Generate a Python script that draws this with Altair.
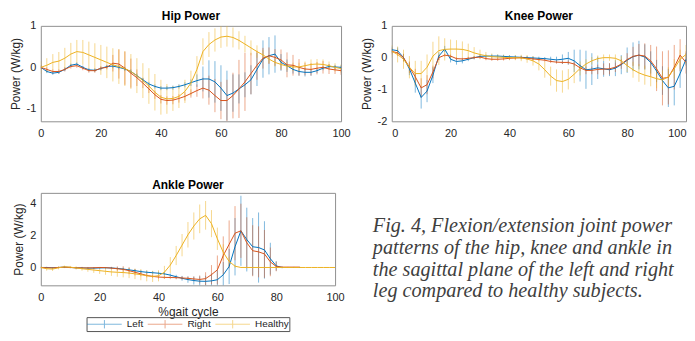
import altair as alt
import pandas as pd

# ---------------- data ----------------
X = list(range(0, 101, 2))
SERIES = ["Left", "Right", "Healthy"]
COLORS = ["#0072BD", "#D95319", "#EDB120"]
X_TICKS = [0, 20, 40, 60, 80, 100]
HIP_Y_TICKS = [-1, 0, 1]
KNEE_Y_TICKS = [-2, -1, 0, 1]
ANKLE_Y_TICKS = [0, 2, 4]

CAPTION = [
    "Fig. 4, Flexion/extension joint power",
    "patterns of the hip, knee and ankle in",
    "the sagittal plane of the left and right",
    "leg compared to healthy subjects.",
]

# Hip power (W/kg), every 2 % of the gait cycle
hip_left_mean = [0.0, -0.1, -0.14, -0.12, -0.05, 0.05, 0.08, 0.0, -0.06, -0.07,
                 -0.03, 0.02, 0.03, 0.0, -0.04, -0.1, -0.2, -0.3, -0.4, -0.46,
                 -0.5, -0.5, -0.49, -0.46, -0.42, -0.37, -0.32, -0.28, -0.28, -0.35,
                 -0.5, -0.68, -0.62, -0.52, -0.42, -0.3, -0.05, 0.2, 0.28, 0.32,
                 0.12, 0.04, -0.05, -0.1, -0.12, -0.12, -0.08, -0.02, 0.02, 0.01, 0.0]
hip_left_sd = [0.04, 0.04, 0.04, 0.04, 0.04, 0.04, 0.04, 0.04, 0.04, 0.04,
               0.04, 0.04, 0.05, 0.05, 0.05, 0.05, 0.05, 0.05, 0.05, 0.05,
               0.05, 0.05, 0.05, 0.05, 0.06, 0.08, 0.15, 0.3, 0.45, 0.5,
               0.55, 0.6, 0.45, 0.35, 0.3, 0.35, 0.4, 0.45, 0.45, 0.45,
               0.2, 0.15, 0.1, 0.1, 0.1, 0.08, 0.06, 0.05, 0.05, 0.05, 0.05]
hip_right_mean = [0.0, -0.05, -0.1, -0.1, -0.05, 0.02, 0.04, -0.02, -0.08, -0.08,
                  -0.02, 0.0, 0.1, 0.08, -0.02, -0.14, -0.25, -0.38, -0.52, -0.66,
                  -0.77, -0.8, -0.79, -0.75, -0.7, -0.63, -0.56, -0.5, -0.55, -0.68,
                  -0.8, -0.8, -0.68, -0.52, -0.35, -0.15, 0.05, 0.22, 0.28, 0.24,
                  0.18, 0.06, 0.05, 0.0, -0.04, -0.05, -0.02, 0.0, -0.04, -0.06, -0.08]
hip_right_sd = [0.05, 0.05, 0.05, 0.05, 0.05, 0.05, 0.05, 0.05, 0.05, 0.05,
                0.05, 0.05, 0.2, 0.35, 0.4, 0.35, 0.2, 0.12, 0.1, 0.1,
                0.1, 0.1, 0.1, 0.1, 0.1, 0.1, 0.15, 0.25, 0.35, 0.4,
                0.45, 0.5, 0.55, 0.7, 0.7, 0.5, 0.35, 0.25, 0.2, 0.2,
                0.25, 0.3, 0.25, 0.2, 0.15, 0.15, 0.15, 0.15, 0.12, 0.1, 0.1]
hip_healthy_mean = [0.0, 0.05, 0.12, 0.15, 0.22, 0.32, 0.38, 0.36, 0.3, 0.24,
                    0.18, 0.12, 0.06, 0.02, -0.03, -0.1, -0.2, -0.32, -0.45, -0.6,
                    -0.72, -0.76, -0.75, -0.7, -0.58, -0.38, -0.05, 0.38, 0.55, 0.66,
                    0.73, 0.75, 0.72, 0.65, 0.56, 0.47, 0.38, 0.3, 0.2, 0.12,
                    0.07, 0.03, 0.01, 0.01, 0.04, 0.07, 0.08, 0.07, 0.04, 0.0, -0.03]
hip_healthy_sd = [0.15, 0.17, 0.2, 0.22, 0.25, 0.27, 0.28, 0.3, 0.32, 0.34,
                  0.36, 0.38, 0.4, 0.42, 0.42, 0.42, 0.42, 0.42, 0.43, 0.44,
                  0.42, 0.36, 0.3, 0.28, 0.28, 0.3, 0.32, 0.32, 0.3, 0.28,
                  0.26, 0.25, 0.24, 0.22, 0.2, 0.18, 0.15, 0.12, 0.1, 0.1,
                  0.1, 0.1, 0.1, 0.1, 0.1, 0.12, 0.12, 0.12, 0.1, 0.1, 0.1]

# Knee power (W/kg)
knee_left_mean = [0.25, 0.22, 0.0, -0.35, -0.8, -1.25, -1.05, -0.55, 0.05, 0.27,
                  -0.05, -0.12, -0.1, -0.05, 0.0, 0.04, 0.05, 0.05, 0.05, 0.04,
                  0.03, 0.02, 0.01, 0.0, -0.01, -0.02, -0.03, -0.05, -0.07, -0.05,
                  -0.02, -0.1, -0.25, -0.38, -0.36, -0.32, -0.35, -0.38, -0.33, -0.22,
                  -0.08, 0.03, 0.08, 0.02, -0.15, -0.42, -0.72, -0.95, -0.9, -0.5, -0.05]
knee_left_sd = [0.1, 0.1, 0.12, 0.2, 0.3, 0.35, 0.35, 0.25, 0.12, 0.1,
                0.1, 0.1, 0.08, 0.06, 0.05, 0.05, 0.05, 0.05, 0.05, 0.05,
                0.05, 0.05, 0.05, 0.05, 0.05, 0.05, 0.05, 0.08, 0.1, 0.15,
                0.2, 0.35, 0.5, 0.6, 0.5, 0.35, 0.25, 0.2, 0.25, 0.3,
                0.4, 0.45, 0.45, 0.4, 0.35, 0.35, 0.45, 0.6, 0.6, 0.45, 0.2]
knee_right_mean = [0.2, 0.15, 0.0, -0.3, -0.6, -0.95, -0.85, -0.45, 0.0, 0.08,
                   0.05, -0.03, -0.04, -0.02, 0.0, 0.02, -0.03, -0.05, -0.05, -0.04,
                   -0.02, -0.01, 0.0, -0.02, -0.04, -0.06, -0.08, -0.12, -0.14, -0.15,
                   -0.15, -0.2, -0.32, -0.4, -0.4, -0.37, -0.36, -0.35, -0.3, -0.2,
                   -0.06, 0.04, 0.08, 0.05, -0.1, -0.35, -0.65, -0.62, -0.3, 0.08, -0.15]
knee_right_sd = [0.1, 0.1, 0.12, 0.18, 0.25, 0.3, 0.3, 0.2, 0.08, 0.05,
                 0.05, 0.05, 0.05, 0.05, 0.05, 0.05, 0.05, 0.05, 0.05, 0.05,
                 0.05, 0.05, 0.05, 0.05, 0.05, 0.05, 0.05, 0.05, 0.05, 0.05,
                 0.06, 0.08, 0.1, 0.12, 0.12, 0.15, 0.18, 0.18, 0.15, 0.15,
                 0.2, 0.3, 0.35, 0.4, 0.5, 0.7, 0.85, 0.85, 0.7, 0.5, 0.35]
knee_healthy_mean = [0.2, 0.1, -0.05, -0.3, -0.5, -0.5, -0.3, 0.05, 0.22, 0.26,
                     0.27, 0.27, 0.26, 0.22, 0.15, 0.1, 0.06, 0.03, 0.02, 0.01,
                     0.0, 0.0, -0.01, -0.04, -0.1, -0.2, -0.38, -0.58, -0.72, -0.75,
                     -0.68, -0.52, -0.34, -0.2, -0.1, -0.03, 0.0, 0.0, -0.02, -0.1,
                     -0.25, -0.38, -0.48, -0.55, -0.6, -0.66, -0.7, -0.6, -0.35, -0.05, 0.1]
knee_healthy_sd = [0.2, 0.25, 0.3, 0.35, 0.4, 0.4, 0.4, 0.45, 0.45, 0.35,
                   0.3, 0.28, 0.25, 0.22, 0.18, 0.15, 0.12, 0.1, 0.08, 0.08,
                   0.08, 0.08, 0.1, 0.12, 0.15, 0.2, 0.25, 0.3, 0.35, 0.35,
                   0.32, 0.28, 0.22, 0.15, 0.12, 0.1, 0.1, 0.1, 0.12, 0.15,
                   0.2, 0.25, 0.28, 0.3, 0.3, 0.3, 0.3, 0.3, 0.3, 0.3, 0.3]

# Ankle power (W/kg); patient series stop at 88 %
ankle_left_mean = [0.0, 0.0, -0.02, 0.0, 0.02, 0.0, -0.02, -0.03, -0.04, -0.04,
                   -0.03, -0.02, -0.03, -0.06, -0.1, -0.15, -0.2, -0.26, -0.3, -0.33,
                   -0.36, -0.4, -0.48, -0.58, -0.68, -0.76, -0.82, -0.86, -0.87, -0.84,
                   -0.77, -0.46, 0.06, 1.3, 2.3, 1.75, 1.3, 1.25, 1.1, 0.55,
                   0.1, 0.0, 0.0, 0.0, 0.0]
ankle_left_sd = [0.04, 0.04, 0.04, 0.04, 0.04, 0.04, 0.04, 0.04, 0.04, 0.04,
                 0.04, 0.04, 0.04, 0.06, 0.08, 0.1, 0.1, 0.1, 0.1, 0.1,
                 0.1, 0.1, 0.1, 0.12, 0.15, 0.2, 0.25, 0.3, 0.35, 0.45,
                 0.6, 0.8, 1.1, 1.8, 2.2, 2.0, 1.8, 2.2, 1.8, 1.0,
                 0.3, 0.05, 0.02, 0.02, 0.02]
ankle_right_mean = [0.0, -0.02, -0.03, 0.0, 0.02, 0.0, -0.02, -0.03, -0.03, -0.02,
                    0.0, -0.01, -0.04, -0.08, -0.12, -0.2, -0.3, -0.4, -0.5, -0.56,
                    -0.6, -0.62, -0.63, -0.64, -0.66, -0.68, -0.72, -0.75, -0.7, -0.45,
                    -0.15, 0.75, 1.45, 2.15, 2.3, 1.55, 1.05, 0.98, 0.85, 0.35,
                    0.06, 0.02, 0.02, 0.02, 0.02]
ankle_right_sd = [0.03, 0.03, 0.03, 0.03, 0.03, 0.03, 0.03, 0.03, 0.03, 0.03,
                  0.03, 0.03, 0.08, 0.15, 0.2, 0.22, 0.2, 0.15, 0.12, 0.1,
                  0.1, 0.1, 0.1, 0.1, 0.1, 0.1, 0.15, 0.25, 0.4, 0.6,
                  0.9, 1.2, 1.5, 1.7, 1.7, 1.6, 1.6, 1.6, 1.5, 0.9,
                  0.3, 0.05, 0.02, 0.02, 0.02]
ankle_healthy_mean = [0.0, -0.08, -0.1, -0.02, 0.04, 0.02, -0.03, -0.08, -0.12, -0.16,
                      -0.2, -0.24, -0.28, -0.3, -0.32, -0.35, -0.4, -0.45, -0.52, -0.56,
                      -0.52, -0.3, 0.15, 0.75, 1.4, 2.05, 2.6, 3.05, 3.27, 2.75,
                      1.8, 0.95, 0.38, 0.08, 0.0, 0.0, 0.0, 0.0, 0.0, 0.0,
                      0.0, 0.0, 0.0, 0.0, 0.0, 0.0, 0.0, 0.0, 0.0, 0.0, 0.0]
ankle_healthy_sd = [0.1, 0.12, 0.12, 0.1, 0.08, 0.08, 0.1, 0.12, 0.15, 0.18,
                    0.2, 0.22, 0.25, 0.28, 0.3, 0.32, 0.33, 0.35, 0.35, 0.35,
                    0.35, 0.4, 0.5, 0.6, 0.7, 0.8, 0.85, 0.9, 0.9, 0.85,
                    0.7, 0.5, 0.3, 0.1, 0.02, 0.0, 0.0, 0.0, 0.0, 0.0,
                    0.0, 0.0, 0.0, 0.0, 0.0, 0.0, 0.0, 0.0, 0.0, 0.0, 0.0]


def long_frame(parts):
    rows = []
    for name, mean, sd in parts:
        for x, m, s in zip(X, mean, sd):
            rows.append({"x": x, "series": name, "mean": m, "sd": s})
    return pd.DataFrame(rows)


hip_df = long_frame([("Left", hip_left_mean, hip_left_sd),
                     ("Right", hip_right_mean, hip_right_sd),
                     ("Healthy", hip_healthy_mean, hip_healthy_sd)])
knee_df = long_frame([("Left", knee_left_mean, knee_left_sd),
                      ("Right", knee_right_mean, knee_right_sd),
                      ("Healthy", knee_healthy_mean, knee_healthy_sd)])
ankle_df = long_frame([("Left", ankle_left_mean, ankle_left_sd),
                       ("Right", ankle_right_mean, ankle_right_sd),
                       ("Healthy", ankle_healthy_mean, ankle_healthy_sd)])

FONT = "Liberation Sans"
TXT = "#262626"


def panel(df, title, ydom, yticks, w, h, title_offset, xtitle=None, legend=None,
          flush=False):
    xaxis = alt.Axis(values=X_TICKS, title=xtitle, labelPadding=6, titlePadding=4,
                     labelFlush=flush)
    yaxis = alt.Axis(values=yticks, title="Power (W/kg)", labelPadding=5,
                     titlePadding=4, labelExpr="'' + datum.value")
    xs = alt.Scale(domain=[0, 100], nice=False)
    ys = alt.Scale(domain=ydom, nice=False, zero=False)
    color = alt.Color("series:N", scale=alt.Scale(domain=SERIES, range=COLORS),
                      sort=SERIES, legend=legend)
    bars = alt.Chart(df).transform_calculate(
        lo="datum.mean - datum.sd", hi="datum.mean + datum.sd"
    ).mark_rule(strokeWidth=1, opacity=0.5, clip=True).encode(
        x=alt.X("x:Q", scale=xs, axis=xaxis),
        y=alt.Y("lo:Q", scale=ys, axis=yaxis),
        y2="hi:Q",
        color=color,
    )
    lines = alt.Chart(df).mark_line(strokeWidth=1, clip=True).encode(
        x=alt.X("x:Q", scale=xs, axis=xaxis),
        y=alt.Y("mean:Q", scale=ys, axis=yaxis),
        color=color,
    )
    return alt.layer(bars, lines).properties(
        width=w, height=h,
        title=alt.TitleParams(title, fontSize=12, fontWeight="bold", color="black",
                              font=FONT, offset=title_offset),
    )


hip = panel(hip_df, "Hip Power", [-1.3, 1.0], HIP_Y_TICKS, 302, 96, -3)
knee = panel(knee_df, "Knee Power", [-2.0, 1.0], KNEE_Y_TICKS, 296, 96, -3, flush=True)

legend = alt.Legend(
    orient="none", legendX=46, legendY=125, direction="horizontal", title=None,
    symbolType="M-2.9,0L2.9,0M0,-0.7L0,0.7", symbolSize=144, symbolStrokeWidth=1,
    symbolOffset=11, labelOffset=16,
    labelFontSize=10, labelFont=FONT, labelColor=TXT,
    columnPadding=2, strokeColor="#555555", padding=0.5,
)
ankle = panel(ankle_df, "Ankle Power", [-1.12, 4.68], ANKLE_Y_TICKS, 296, 93, 1,
              xtitle="%gait cycle", legend=legend)

cap_df = pd.DataFrame({"i": list(range(len(CAPTION))), "t": CAPTION})
caption = alt.Chart(cap_df).mark_text(
    align="left", baseline="middle", font="Liberation Serif", fontStyle="italic",
    fontSize=20.3, color="#404040",
).encode(
    x=alt.value(15),
    y=alt.Y("i:Q", scale=alt.Scale(domain=[-1.56, 4.2], nice=False, zero=False,
                                   reverse=True), axis=None),
    text="t:N",
).properties(width=320, height=125, view=alt.ViewBackground(stroke="transparent"))

row1 = alt.hconcat(hip, knee, spacing=8).resolve_scale(color="independent")
row2 = alt.hconcat(ankle, caption, spacing=12).resolve_scale(color="independent")

chart = alt.vconcat(row1, row2, spacing=39).resolve_scale(
    color="independent"
).properties(
    padding={"left": 0, "top": 0, "right": 0, "bottom": 0}
).configure_view(
    stroke="#8f8f8f", strokeWidth=1
).configure_axis(
    grid=False, domain=False, ticks=False, labelFont=FONT, titleFont=FONT,
    labelFontSize=11, titleFontSize=12, labelColor=TXT, titleColor=TXT,
    titleFontWeight="normal",
)

chart.save("out.html", embed_options={"renderer": "svg", "actions": False})
